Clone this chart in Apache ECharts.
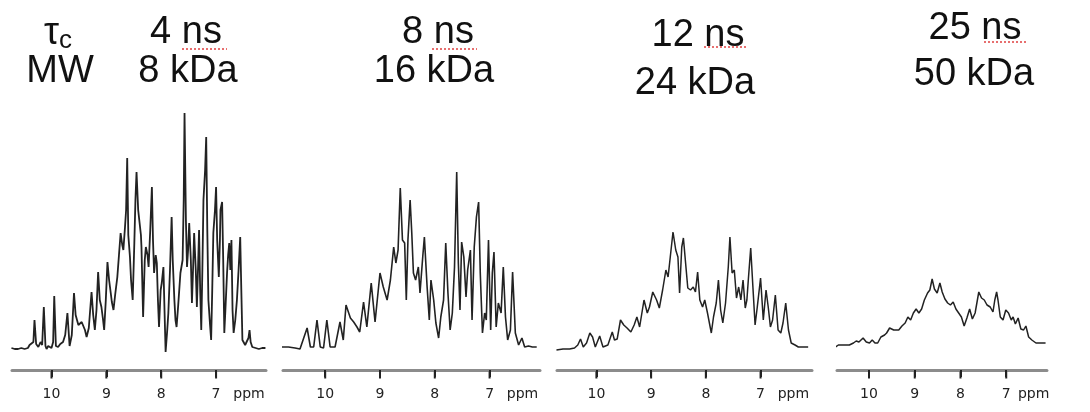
<!DOCTYPE html>
<html>
<head>
<meta charset="utf-8">
<script src="https://cdn.jsdelivr.net/npm/echarts@6/dist/echarts.min.js"></script>
<style>
  html, body { margin: 0; padding: 0; background: #fff; }
  #chart { width: 1090px; height: 412px; }
</style>
</head>
<body>
<div id="chart"></div>
<script>
// spectra: [ppm, intensity]
var spec4ns = [
  [10.73, 2], [10.70, 4], [10.67, 1], [10.64, 3], [10.61, 1], [10.58, 3], [10.55, 2], [10.52, 4],
  [10.49, 1], [10.46, 3], [10.43, 2], [10.40, 5], [10.37, 3], [10.33, 8], [10.31, 30], [10.28, 6],
  [10.24, 3], [10.20, 8], [10.17, 5], [10.14, 43], [10.11, 4], [10.09, 1], [10.06, 4], [10.03, 6],
  [10.00, 2], [9.97, 8], [9.95, 54], [9.92, 4], [9.88, 3], [9.84, 6], [9.79, 8], [9.75, 15],
  [9.71, 37], [9.67, 4], [9.63, 15], [9.59, 57], [9.56, 35], [9.54, 33], [9.51, 25], [9.48, 23],
  [9.45, 28], [9.42, 30], [9.39, 20], [9.36, 13], [9.32, 22], [9.27, 58], [9.24, 35], [9.21, 20],
  [9.18, 40], [9.15, 78], [9.12, 50], [9.09, 43], [9.06, 30], [9.04, 20], [9.01, 50], [8.98, 88],
  [8.95, 70], [8.92, 57], [8.90, 48], [8.87, 40], [8.84, 55], [8.80, 73], [8.77, 95], [8.74, 117],
  [8.71, 105], [8.69, 100], [8.66, 123], [8.64, 140], [8.62, 192], [8.60, 115], [8.57, 93], [8.55, 70],
  [8.52, 50], [8.49, 107], [8.47, 150], [8.45, 178], [8.42, 140], [8.40, 130], [8.37, 115], [8.36, 103],
  [8.33, 33], [8.30, 90], [8.28, 103], [8.25, 95], [8.23, 83], [8.20, 120], [8.17, 163], [8.15, 110],
  [8.13, 77], [8.10, 95], [8.08, 87], [8.06, 50], [8.04, 23], [8.01, 60], [7.99, 67], [7.96, 83],
  [7.94, 40], [7.92, -2], [7.89, 20], [7.87, 37], [7.84, 80], [7.81, 133], [7.79, 90], [7.76, 50],
  [7.74, 30], [7.72, 23], [7.69, 45], [7.65, 77], [7.61, 90], [7.59, 150], [7.575, 237], [7.55, 130],
  [7.53, 83], [7.51, 100], [7.49, 127], [7.46, 90], [7.44, 47], [7.42, 80], [7.40, 117], [7.37, 80],
  [7.35, 43], [7.33, 80], [7.31, 120], [7.29, 60], [7.27, 20], [7.25, 80], [7.23, 150], [7.20, 180],
  [7.18, 213], [7.16, 120], [7.14, 50], [7.11, 25], [7.09, 10], [7.07, 60], [7.05, 117], [7.02, 140],
  [7.00, 163], [6.98, 110], [6.95, 73], [6.93, 110], [6.92, 140], [6.89, 148], [6.87, 90], [6.85, 17],
  [6.83, 40], [6.80, 77], [6.78, 95], [6.76, 107], [6.74, 80], [6.72, 110], [6.70, 40], [6.68, 17],
  [6.65, 30], [6.62, 50], [6.59, 80], [6.56, 113], [6.54, 60], [6.52, 10], [6.49, 12], [6.47, 5],
  [6.44, 7], [6.41, 12], [6.39, 20], [6.37, 8], [6.34, 3], [6.31, 5], [6.28, 2], [6.25, 4],
  [6.22, 1], [6.19, 3], [6.16, 2], [6.13, 4], [6.10, 2]
];

var spec8ns = [
  [10.79, 3], [10.67, 3], [10.55, 2], [10.46, 1], [10.33, 22], [10.27, 3], [10.21, 3], [10.15, 30],
  [10.09, 3], [10.03, 2], [9.97, 30], [9.91, 3], [9.82, 3], [9.73, 28], [9.67, 10], [9.62, 45],
  [9.54, 32], [9.48, 28], [9.42, 23], [9.37, 18], [9.30, 48], [9.24, 23], [9.16, 67], [9.09, 28],
  [9.00, 77], [8.94, 63], [8.87, 50], [8.81, 70], [8.75, 103], [8.71, 87], [8.67, 100], [8.63, 162],
  [8.59, 110], [8.55, 107], [8.52, 50], [8.49, 110], [8.45, 150], [8.42, 117], [8.39, 77], [8.35, 70],
  [8.30, 83], [8.27, 57], [8.22, 93], [8.19, 113], [8.14, 63], [8.10, 30], [8.07, 70], [8.02, 50],
  [7.98, 27], [7.93, 12], [7.89, 33], [7.84, 50], [7.80, 107], [7.76, 57], [7.72, 20], [7.68, 37],
  [7.64, 83], [7.60, 178], [7.57, 87], [7.54, 40], [7.51, 108], [7.47, 93], [7.43, 53], [7.40, 80],
  [7.35, 100], [7.32, 30], [7.28, 103], [7.24, 133], [7.20, 148], [7.17, 77], [7.13, 17], [7.09, 37],
  [7.06, 30], [7.02, 110], [6.98, 20], [6.95, 77], [6.92, 98], [6.88, 23], [6.84, 47], [6.79, 37],
  [6.75, 83], [6.71, 33], [6.67, 10], [6.62, 20], [6.58, 78], [6.53, 17], [6.47, 5], [6.41, 12],
  [6.36, 3], [6.29, 4], [6.22, 3], [6.14, 3]
];

var spec12ns = [
  [10.73, 0], [10.61, 1], [10.49, 1], [10.40, 2], [10.34, 5], [10.29, 11], [10.24, 3], [10.18, 7],
  [10.12, 17], [10.07, 13], [10.02, 3], [9.94, 14], [9.88, 3], [9.79, 5], [9.71, 18], [9.67, 10],
  [9.62, 11], [9.56, 30], [9.50, 25], [9.44, 22], [9.37, 18], [9.31, 25], [9.26, 33], [9.21, 23],
  [9.13, 50], [9.07, 37], [9.03, 43], [8.97, 58], [8.90, 50], [8.85, 42], [8.79, 60], [8.73, 80],
  [8.69, 73], [8.65, 93], [8.60, 118], [8.55, 100], [8.51, 93], [8.48, 57], [8.44, 103], [8.41, 112],
  [8.37, 87], [8.33, 62], [8.28, 60], [8.23, 63], [8.19, 58], [8.15, 78], [8.11, 50], [8.06, 43],
  [8.02, 50], [7.97, 37], [7.90, 17], [7.86, 33], [7.81, 47], [7.77, 70], [7.73, 40], [7.69, 27],
  [7.64, 47], [7.59, 83], [7.56, 113], [7.52, 77], [7.48, 80], [7.44, 52], [7.40, 63], [7.36, 50],
  [7.32, 70], [7.28, 42], [7.25, 50], [7.22, 73], [7.18, 102], [7.14, 63], [7.10, 25], [7.06, 43],
  [7.00, 72], [6.95, 30], [6.90, 60], [6.86, 43], [6.82, 23], [6.78, 30], [6.73, 55], [6.68, 20],
  [6.63, 17], [6.59, 27], [6.54, 47], [6.49, 20], [6.44, 7], [6.37, 5], [6.31, 3], [6.22, 3],
  [6.13, 3]
];

var spec25ns = [
  [10.73, 3], [10.67, 5], [10.55, 5], [10.43, 5], [10.34, 7], [10.28, 9], [10.22, 8], [10.13, 12],
  [10.06, 8], [9.99, 7], [9.93, 10], [9.87, 7], [9.81, 7], [9.74, 13], [9.66, 15], [9.615, 17],
  [9.55, 22], [9.46, 20], [9.35, 20], [9.28, 24], [9.21, 27], [9.15, 33], [9.09, 30], [9.03, 37],
  [8.97, 41], [8.91, 37], [8.85, 41], [8.79, 50], [8.72, 57], [8.67, 60], [8.62, 71], [8.57, 61],
  [8.51, 57], [8.45, 67], [8.40, 58], [8.34, 51], [8.28, 47], [8.22, 45], [8.16, 48], [8.10, 41],
  [8.04, 37], [7.98, 33], [7.92, 24], [7.86, 32], [7.80, 41], [7.74, 31], [7.68, 37], [7.60, 58],
  [7.54, 52], [7.48, 50], [7.42, 45], [7.35, 43], [7.29, 38], [7.25, 50], [7.21, 58], [7.18, 50],
  [7.13, 33], [7.07, 30], [7.01, 40], [6.95, 37], [6.89, 30], [6.85, 33], [6.80, 26], [6.74, 32],
  [6.68, 21], [6.62, 20], [6.57, 24], [6.51, 13], [6.44, 10], [6.35, 7], [6.26, 7], [6.14, 7]
];

var tauLabels = ['4 ns', '8 ns', '12 ns', '25 ns'];
var mwLabels = ['8 kDa', '16 kDa', '24 kDa', '50 kDa'];
var tickValues = [10, 9, 8, 7];
var labelValues = [10, 9, 8, 7, 6.4];
var labelTexts = ['10', '9', '8', '7', 'ppm'];
var ppmMin = [6.09, 6.08, 6.06, 6.11];
var ppmMax = [10.72, 10.77, 10.72, 10.70];

var spectra = [spec4ns, spec8ns, spec12ns, spec25ns];

// panel layout
var panelLeft = [12, 283, 557, 837];
var panelWidth = [254, 257, 255, 253];
var lineWidths = [1.8, 1.6, 1.5, 1.5];
var tauPos = [[186, 33], [438, 33], [698, 36], [975, 29]];
var mwPos = [[188, 72], [434, 72], [695, 84], [974, 75]];
var squiggle = [[182, 227, 49], [432, 477, 49], [704, 748, 47], [984, 1027, 42]];

var chart = echarts.init(document.getElementById('chart'));

var grids = [], xAxes = [], yAxes = [], series = [];
var titleFont = '38px "Liberation Sans", Arial, sans-serif';
var graphics = [
  {
    type: 'text', x: 58, y: 34,
    style: {
      text: '{t|τ}{c|c}', textAlign: 'center', textVerticalAlign: 'middle',
      rich: {
        t: { fontSize: 38, fontFamily: 'Liberation Sans', fill: '#111' },
        c: { fontSize: 26, fontFamily: 'Liberation Sans', fill: '#111', padding: [14, 0, 0, 0] }
      }
    }
  },
  {
    type: 'text', x: 60, y: 72,
    style: { text: 'MW', font: titleFont, fill: '#111', textAlign: 'center', textVerticalAlign: 'middle' }
  }
];

// tick marks sit just under the axis line (below the grid's -20 floor)
var tickMarks = tickValues.map(function (v) { return [v, -25]; });

for (var i = 0; i < 4; i++) {
  grids.push({ left: panelLeft[i], width: panelWidth[i], top: 110, bottom: 42 });
  xAxes.push({
    type: 'value', gridIndex: i, inverse: true,
    min: ppmMin[i], max: ppmMax[i],
    splitLine: { show: false },
    axisLine: { show: true, onZero: false, lineStyle: { color: '#8c8c8c', width: 3 } },
    axisTick: { show: true, customValues: tickValues, length: 7, lineStyle: { color: '#222', width: 2 } },
    axisLabel: {
      customValues: labelValues, margin: 17, hideOverlap: false,
      color: '#222', fontSize: 14, fontFamily: 'DejaVu Sans',
      formatter: function (v) { return labelTexts[labelValues.indexOf(v)]; }
    }
  });
  yAxes.push({ type: 'value', gridIndex: i, min: -20, max: 240, show: false, splitLine: { show: false } });
  series.push({
    type: 'line', xAxisIndex: i, yAxisIndex: i, data: spectra[i],
    showSymbol: false, silent: true,
    lineStyle: { color: '#222', width: lineWidths[i] }
  });
  series.push({
    type: 'scatter', xAxisIndex: i, yAxisIndex: i, data: tickMarks,
    symbol: 'rect', symbolSize: [2, 7], clip: false, silent: true, z: 10,
    itemStyle: { color: '#222', opacity: 1 }
  });
  graphics.push({
    type: 'text', x: tauPos[i][0], y: tauPos[i][1],
    style: { text: tauLabels[i], font: titleFont, fill: '#111', textAlign: 'center', textVerticalAlign: 'middle' }
  });
  graphics.push({
    type: 'text', x: mwPos[i][0], y: mwPos[i][1],
    style: { text: mwLabels[i], font: titleFont, fill: '#111', textAlign: 'center', textVerticalAlign: 'middle' }
  });
  graphics.push({
    type: 'line',
    shape: { x1: squiggle[i][0], y1: squiggle[i][2], x2: squiggle[i][1], y2: squiggle[i][2] },
    style: { stroke: '#e04040', lineWidth: 1.5, lineDash: [2, 2] }
  });
}

chart.setOption({
  animation: false,
  backgroundColor: '#fff',
  grid: grids,
  xAxis: xAxes,
  yAxis: yAxes,
  series: series,
  graphic: graphics
});
</script>
</body>
</html>
